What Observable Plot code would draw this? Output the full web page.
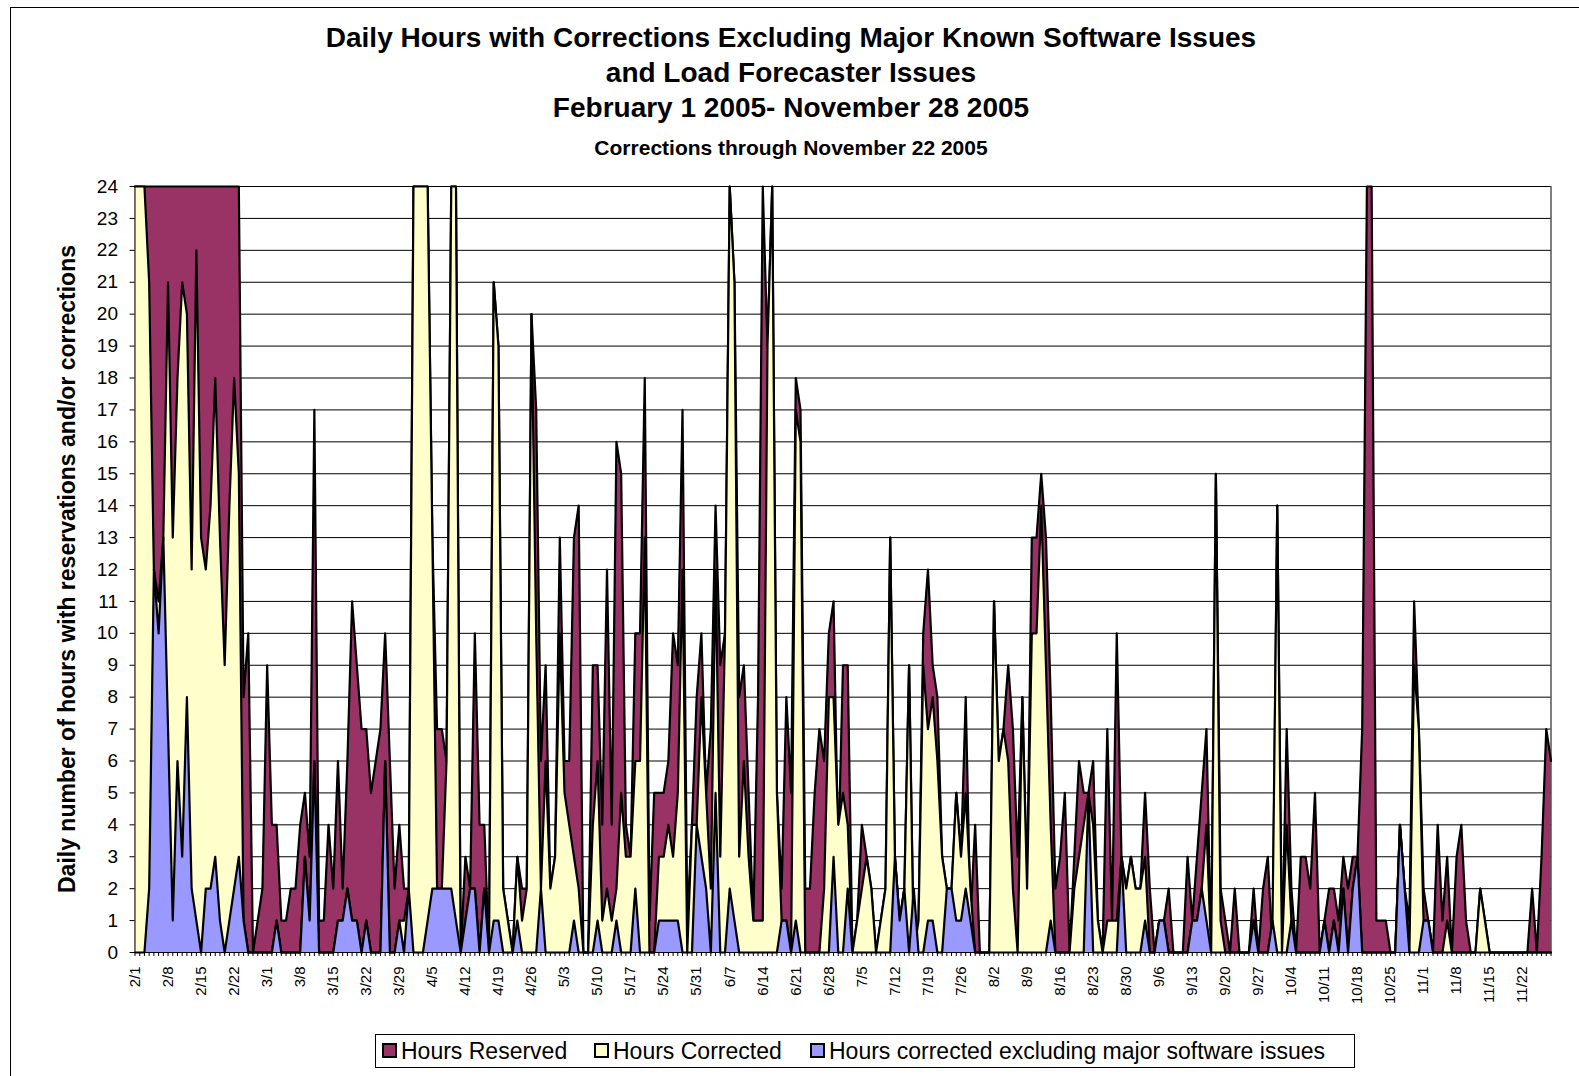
<!DOCTYPE html>
<html><head><meta charset="utf-8">
<script src="https://cdn.jsdelivr.net/npm/d3@7"></script>
<script src="https://cdn.jsdelivr.net/npm/@observablehq/plot@0.6"></script>
<style>
body{margin:0;background:#fff;font-family:"Liberation Sans",Arial,sans-serif;}
#wrap{position:relative;width:1579px;height:1076px;overflow:hidden;background:#fff;}
#frame{position:absolute;left:10px;top:7px;width:1600px;height:1100px;border:1px solid #000;}
.ttl{position:absolute;left:191px;width:1200px;text-align:center;font-weight:bold;color:#000;white-space:nowrap;}
#ylab{position:absolute;left:67px;top:569px;transform:translate(-50%,-50%) rotate(-90deg);font-weight:bold;font-size:23px;white-space:nowrap;}
#chart{position:absolute;left:0;top:170px;}
#legend{position:absolute;left:375px;top:1034px;width:978px;height:32px;border:1px solid #000;background:#fff;font-size:23px;}
.item{position:absolute;top:3px;white-space:nowrap;}
.sw{display:inline-block;width:11px;height:11px;border:2px solid #000;margin-right:4px;vertical-align:1px;}
</style></head><body>
<div id="wrap">
<div id="frame"></div>
<div class="ttl" style="top:22px;font-size:28px;">Daily Hours with Corrections Excluding Major Known Software Issues</div>
<div class="ttl" style="top:57px;font-size:28px;">and Load Forecaster Issues</div>
<div class="ttl" style="top:92px;font-size:28px;">February 1 2005- November 28 2005</div>
<div class="ttl" style="top:136px;font-size:21px;">Corrections through November 22 2005</div>
<div id="ylab">Daily number of hours with reservations and/or corrections</div>
<div id="chart"></div>
<div id="legend"></div>
</div>
<script>
const tickLabels = ["2/1","2/8","2/15","2/22","3/1","3/8","3/15","3/22","3/29","4/5","4/12","4/19","4/26","5/3","5/10","5/17","5/24","5/31","6/7","6/14","6/21","6/28","7/5","7/12","7/19","7/26","8/2","8/9","8/16","8/23","8/30","9/6","9/13","9/20","9/27","10/4","10/11","10/18","10/25","11/1","11/8","11/15","11/22"];
const seriesNames = ["Hours Reserved","Hours Corrected","Hours corrected excluding major software issues"];
const seriesColors = ["#993366","#FFFFCC","#9999FF"];
const reserved = [
24,24,24,24,24,24,24,24,24,24,
24,24,24,24,24,24,24,24,24,24,
24,24,24,8,10,0,1,2,9,4,
4,1,1,2,2,4,5,3,17,1,
1,4,2,6,2,6,11,9,7,7,
5,6,7,10,6,2,4,2,2,24,
24,24,24,13,7,7,6,24,24,0,
3,2,10,4,4,0,21,19,2,1,
0,3,2,2,20,17,6,9,2,3,
13,6,6,13,14,0,0,9,9,4,
12,4,16,15,4,3,10,10,18,1,
5,5,5,6,10,9,17,1,4,8,
10,5,7,14,9,10,24,21,8,9,
5,1,8,24,19,24,5,2,8,5,
18,17,2,2,5,7,6,10,11,3,
9,9,0,1,4,3,2,0,1,2,
13,3,1,2,9,0,1,10,12,9,
8,3,2,2,5,3,8,1,4,0,
0,0,11,6,7,9,7,3,8,2,
13,13,15,13,8,2,3,5,0,3,
6,5,5,6,1,0,7,1,10,3,
2,3,2,2,5,2,0,1,1,2,
0,0,0,3,1,3,5,7,0,15,
2,1,0,2,0,0,0,2,0,2,
3,0,14,0,7,2,0,3,3,2,
5,0,1,2,2,1,3,2,3,3,
7,24,24,1,1,1,0,0,4,2,
1,11,7,2,1,0,4,1,3,0,
3,4,1,0,0,2,1,0,0,0,
0,0,0,0,0,0,2,0,3,7,6];
const corrected = [
24,24,24,21,12,11,13,21,13,18,
21,20,12,22,13,12,14,18,13,9,
14,18,15,1,0,0,0,0,0,0,
1,0,0,0,0,0,3,1,6,0,
0,0,0,1,1,2,1,1,0,1,
0,0,0,6,0,0,1,1,2,24,
24,24,24,13,2,2,6,24,24,0,
1,2,2,0,2,0,21,19,2,1,
0,3,1,2,20,10,2,6,2,3,
10,5,4,3,2,0,0,4,6,1,
2,1,2,5,3,3,6,6,13,0,
0,3,3,4,3,5,12,0,4,4,
8,5,2,12,3,10,24,21,3,6,
3,1,1,1,19,24,5,1,1,0,
17,16,0,0,0,0,2,8,8,4,
5,4,0,1,2,3,2,0,1,2,
13,3,1,2,9,0,1,9,7,8,
6,3,2,2,5,3,5,2,0,0,
0,0,11,6,7,6,2,0,8,2,
10,10,14,9,4,0,0,0,0,2,
3,4,5,4,1,0,1,1,1,3,
2,3,2,2,3,0,0,1,1,0,
0,0,0,0,1,1,2,4,0,15,
1,0,0,0,0,0,0,1,0,0,
0,1,14,0,4,1,0,0,0,0,
0,0,1,0,1,0,2,0,2,3,
0,0,0,0,0,0,0,0,4,2,
0,9,7,1,1,0,0,0,1,0,
0,0,0,0,0,2,1,0,0,0,
0,0,0,0,0,0,0,0,0,0,0];
const excluding = [
0,0,0,2,12,10,13,7,1,6,
3,8,2,1,0,2,2,3,1,0,
1,2,3,1,0,0,0,0,0,0,
1,0,0,0,0,0,3,1,6,0,
0,0,0,1,1,2,1,1,0,1,
0,0,0,6,0,0,1,0,2,0,
0,0,1,2,2,2,2,2,1,0,
1,2,2,0,2,0,1,1,0,0,
0,1,0,0,0,0,2,0,0,0,
0,0,0,1,0,0,0,0,1,0,
0,0,1,0,0,0,2,0,0,0,
0,1,1,1,1,1,0,0,0,4,
3,2,0,5,0,0,2,1,0,0,
0,0,0,0,0,0,0,1,1,0,
1,0,0,0,0,0,0,0,3,0,
0,2,0,0,0,0,0,0,0,0,
0,3,1,2,0,2,0,0,1,1,
0,0,2,2,1,1,2,1,0,0,
0,0,0,0,0,0,0,0,0,0,
0,0,0,0,1,0,0,0,0,0,
0,0,5,0,0,0,0,0,0,3,
0,0,0,0,1,0,0,1,1,0,
0,0,0,0,1,1,2,1,0,0,
0,0,0,0,0,0,0,1,0,0,
0,1,0,0,0,1,0,0,0,0,
0,0,1,0,1,0,2,0,2,3,
0,0,0,0,0,0,0,0,4,2,
0,0,0,1,1,0,0,0,0,0,
0,0,0,0,0,0,0,0,0,0,
0,0,0,0,0,0,0,0,0,0,0];

const days = d3.range(reserved.length);
const rows = days.map(i => ({i, r: reserved[i], c: corrected[i], e: excluding[i]}));
const tickDays = tickLabels.map((_, k) => k * 7);
const last = days.length - 1;

const plot = Plot.plot({
  width: 1579, height: 850,
  marginLeft: 134.5, marginRight: 28.5, marginTop: 16, marginBottom: 68,
  x: {type: "linear", domain: [0, last]},
  y: {domain: [0, 24]},
  style: {fontFamily: "'Liberation Sans', Arial, sans-serif", fontSize: "19px", background: "transparent", color: "#000", overflow: "visible"},
  marks: [
    Plot.ruleY(d3.range(0, 25), {stroke: "#000", strokeWidth: 1}),
    Plot.areaY(rows, {x: "i", y: "r", fill: seriesColors[0]}),
    Plot.lineY(rows, {x: "i", y: "r", stroke: "#000", strokeWidth: 2.2}),
    Plot.areaY(rows, {x: "i", y: "c", fill: seriesColors[1]}),
    Plot.lineY(rows, {x: "i", y: "c", stroke: "#000", strokeWidth: 2.2}),
    Plot.areaY(rows, {x: "i", y: "e", fill: seriesColors[2]}),
    Plot.lineY(rows, {x: "i", y: "e", stroke: "#000", strokeWidth: 2.2}),
    Plot.ruleX([0, last], {stroke: "#000", strokeWidth: 1}),
    Plot.ruleY([0], {stroke: "#000", strokeWidth: 1}),
    Plot.axisY({ticks: d3.range(0, 25), tickSize: 5, tickPadding: 12, fontSize: 19, label: null}),
    Plot.axisX({ticks: days, tickSize: 4, tickFormat: () => "", label: null}),
    Plot.axisX({ticks: tickDays, tickSize: 0, tickPadding: 14, tickRotate: -90, fontSize: 15, tickFormat: d => tickLabels[Math.round(d / 7)], label: null})
  ]
});
document.getElementById("chart").appendChild(plot);

const lg = document.getElementById("legend");
const pos = [6, 218, 434];
seriesNames.forEach((n, k) => {
  const it = document.createElement("div");
  it.className = "item";
  it.style.left = pos[k] + "px";
  it.innerHTML = `<span class="sw" style="background:${seriesColors[k]}"></span>${n}`;
  lg.appendChild(it);
});
</script>
</body></html>
